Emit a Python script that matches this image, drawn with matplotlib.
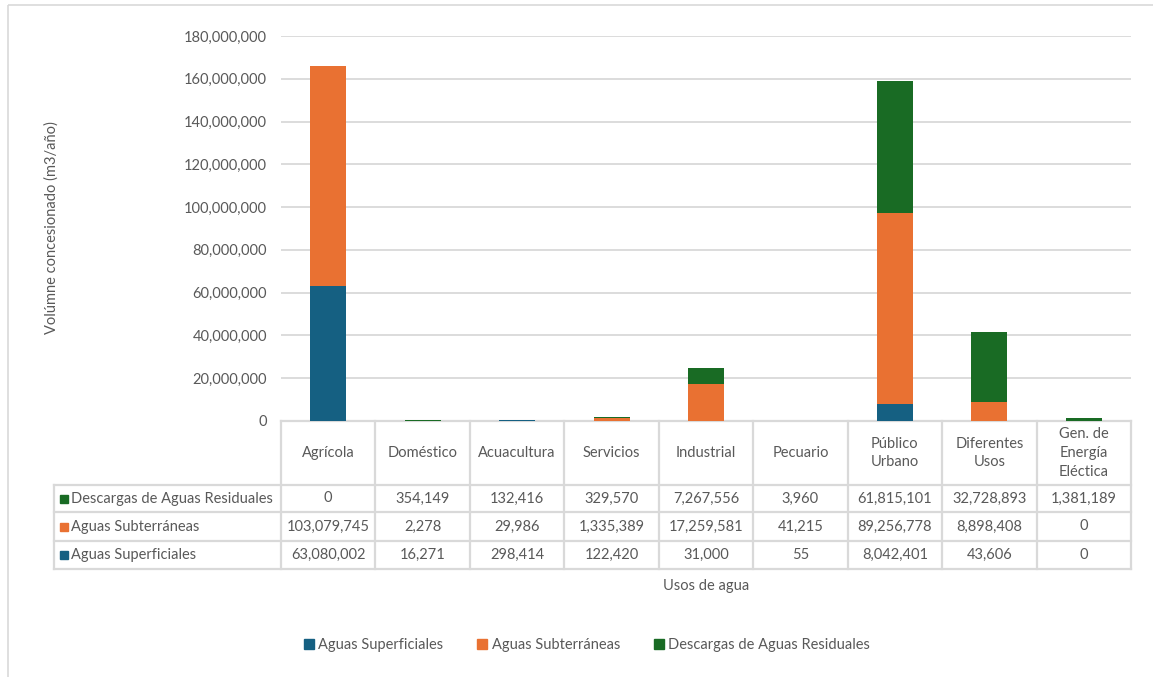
import matplotlib.pyplot as plt
from matplotlib.patches import Patch, Rectangle

usos = ["Agrícola", "Doméstico", "Acuacultura", "Servicios", "Industrial",
        "Pecuario", "Público\nUrbano", "Diferentes\nUsos", "Gen. de\nEnergía\nEléctica"]
superficiales = [63080002, 16271, 298414, 122420, 31000, 55, 8042401, 43606, 0]
subterraneas = [103079745, 2278, 29986, 1335389, 17259581, 41215, 89256778, 8898408, 0]
descargas = [0, 354149, 132416, 329570, 7267556, 3960, 61815101, 32728893, 1381189]

series_names = ["Aguas Superficiales", "Aguas Subterráneas", "Descargas de Aguas Residuales"]
colores = ["#156082", "#E97132", "#196B24"]
yticks = list(range(0, 180000001, 20000000))

plt.rcParams['font.family'] = ['Lato', 'DejaVu Sans']
txt = "#595959"
grid = "#d9d9d9"

W, H = 1153, 677
fig = plt.figure(figsize=(W / 100, H / 100), dpi=100)

# pixel-space overlay for border and data table
bg = fig.add_axes([0, 0, 1, 1])
bg.set_xlim(0, W)
bg.set_ylim(H, 0)
bg.axis("off")
bg.add_patch(Rectangle((8, 5), W + 10, H + 10, fill=False, ec=grid, lw=1.2))

x0, x1 = 281, 1131
y_base, y_top = 421, 36
ax = fig.add_axes([x0 / W, 1 - y_base / H, (x1 - x0) / W, (y_base - y_top) / H])
idx = list(range(len(usos)))
bot2 = [a + b for a, b in zip(superficiales, subterraneas)]
ax.bar(idx, superficiales, width=0.38, color=colores[0], zorder=3)
ax.bar(idx, subterraneas, width=0.38, bottom=superficiales, color=colores[1], zorder=3)
ax.bar(idx, descargas, width=0.38, bottom=bot2, color=colores[2], zorder=3)
ax.set_xlim(-0.5, len(usos) - 0.5)
ax.set_ylim(0, 180000000)
ax.set_yticks(yticks)
ax.set_yticklabels([f"{v:,}" for v in yticks], color=txt, fontsize=10.5)
ax.tick_params(axis="y", length=0, pad=10)
ax.set_xticks([])
ax.grid(axis="y", color=grid, lw=1.3, zorder=0)
for s in ax.spines.values():
    s.set_visible(False)
ax.set_facecolor("none")

# data table below the axis
col_w = (x1 - x0) / len(usos)
row_lines = [485, 512, 541, 569]
left = 54
for y in row_lines:
    bg.plot([left, x1], [y, y], color=grid, lw=1.6)
bg.plot([x0, x1], [y_base, y_base], color=grid, lw=1.6)
bg.plot([left, left], [row_lines[0], row_lines[-1]], color=grid, lw=1.6)
for k in range(len(usos) + 1):
    bg.plot([x0 + k * col_w] * 2, [y_base, row_lines[-1]], color=grid, lw=1.6)

for k, u in enumerate(usos):
    bg.text(x0 + (k + 0.5) * col_w, 453, u, ha="center", va="center",
            color=txt, fontsize=10.5, linespacing=1.45)

filas = [(series_names[2], colores[2], descargas),
         (series_names[1], colores[1], subterraneas),
         (series_names[0], colores[0], superficiales)]
for r, (nombre, col, vals) in enumerate(filas):
    yc = (row_lines[r] + row_lines[r + 1]) / 2
    bg.add_patch(Rectangle((60, yc - 4), 8, 8, color=col))
    bg.text(71, yc, nombre, ha="left", va="center", color=txt, fontsize=10.5)
    for k, v in enumerate(vals):
        bg.text(x0 + (k + 0.5) * col_w, yc, f"{v:,}", ha="center", va="center",
                color=txt, fontsize=10.5)

bg.text(706, 586, "Usos de agua", ha="center", va="center", color=txt, fontsize=10.5)
bg.text(52, 228, "Volúmne concesionado (m3/año)", ha="center", va="center",
        rotation=90, color=txt, fontsize=10.5)

handles = [Patch(color=c) for c in colores]
fig.legend(handles, series_names, loc="center", bbox_to_anchor=(587 / W, 1 - 645 / H),
           ncol=3, frameon=False, fontsize=10.5, labelcolor=txt,
           handlelength=0.7, handleheight=0.7, handletextpad=0.3, columnspacing=2.3)

fig.savefig("out.png", dpi=100)
